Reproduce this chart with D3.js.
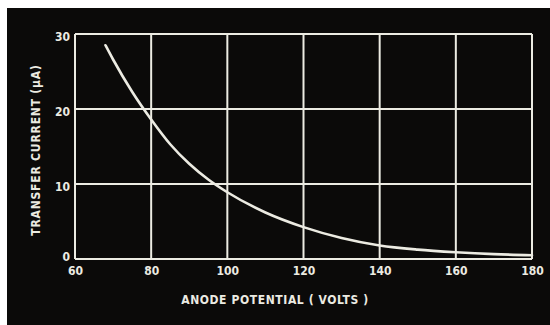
<!DOCTYPE html>
<html>
<head>
<meta charset="utf-8">
<script src="https://cdn.jsdelivr.net/npm/d3@7"></script>
<style>
  html, body { margin: 0; padding: 0; background: #ffffff; }
  svg { display: block; }
</style>
</head>
<body>
<svg id="chart" width="550" height="325"></svg>
<script>
// ---- data ----
const anodeVolts = [68, 70, 75, 80, 85, 90, 95, 100, 110, 120, 130, 140, 150, 160, 170, 180];
const transferCurrent = [28.5, 26.6, 22.3, 18.6, 15.3, 12.7, 10.6, 8.9, 6.2, 4.25, 2.8, 1.8, 1.25, 0.9, 0.65, 0.5];
const xTicks = [60, 80, 100, 120, 140, 160, 180];
const yTicks = [0, 10, 20, 30];
const xTitle = "ANODE POTENTIAL ( VOLTS )";
const yTitle = "TRANSFER CURRENT (\u03BCA)";

const svg = d3.select("#chart");
const W = 550, H = 325;
const m = { left: 75, right: 18, top: 34, bottom: 65 };
const fg = "#ecebe2";
const font = "'DejaVu Sans Condensed', 'Liberation Sans Narrow', sans-serif";

// dark scanned background
svg.append("rect").attr("x", 7).attr("y", 8).attr("width", W - 7).attr("height", H - 8).attr("fill", "#0b0a09");

const x = d3.scaleLinear().domain([60, 180]).range([m.left, W - m.right]);
const y = d3.scaleLinear().domain([0, 30]).range([H - m.bottom - 1, m.top]);

// grid
const g = svg.append("g");
g.selectAll("line.v").data(xTicks).join("line")
  .attr("x1", d => x(d)).attr("x2", d => x(d))
  .attr("y1", y(30)).attr("y2", y(0))
  .attr("stroke", fg).attr("stroke-width", 2);
g.selectAll("line.h").data(yTicks).join("line")
  .attr("x1", x(60)).attr("x2", x(180))
  .attr("y1", d => y(d)).attr("y2", d => y(d))
  .attr("stroke", fg).attr("stroke-width", 2);

// axes labels via d3 axes (no domain / tick lines)
const xAxis = svg.append("g").attr("transform", `translate(0,${y(0)})`)
  .call(d3.axisBottom(x).tickValues(xTicks).tickSize(0).tickPadding(6));
xAxis.select(".domain").remove();
xAxis.selectAll("text").attr("fill", fg).attr("font-family", font).attr("font-weight", "bold")
  .attr("font-size", 12).attr("dy", "0.8em");

const yAxis = svg.append("g").attr("transform", `translate(${x(60)},0)`)
  .call(d3.axisLeft(y).tickValues(yTicks).tickSize(0).tickPadding(5));
yAxis.select(".domain").remove();
yAxis.selectAll("text").attr("fill", fg).attr("font-family", font).attr("font-weight", "bold")
  .attr("font-size", 12).attr("dy", d => d === 0 ? "0.15em" : "0.5em");

// curve
const line = d3.line().x((d, i) => x(anodeVolts[i])).y(d => y(d)).curve(d3.curveMonotoneX);
svg.append("path").datum(transferCurrent)
  .attr("d", line).attr("fill", "none").attr("stroke", fg).attr("stroke-width", 2.6)
  .attr("stroke-linecap", "round");

// titles
svg.append("text").attr("x", 275).attr("y", 304).attr("text-anchor", "middle")
  .attr("fill", fg).attr("font-family", font).attr("font-weight", "bold").attr("font-size", 12)
  .attr("letter-spacing", 0.6).text(xTitle);
svg.append("text").attr("transform", "translate(40,150) rotate(-90)").attr("text-anchor", "middle")
  .attr("fill", fg).attr("font-family", font).attr("font-weight", "bold").attr("font-size", 12)
  .attr("letter-spacing", 0.8).text(yTitle);
</script>
</body>
</html>
